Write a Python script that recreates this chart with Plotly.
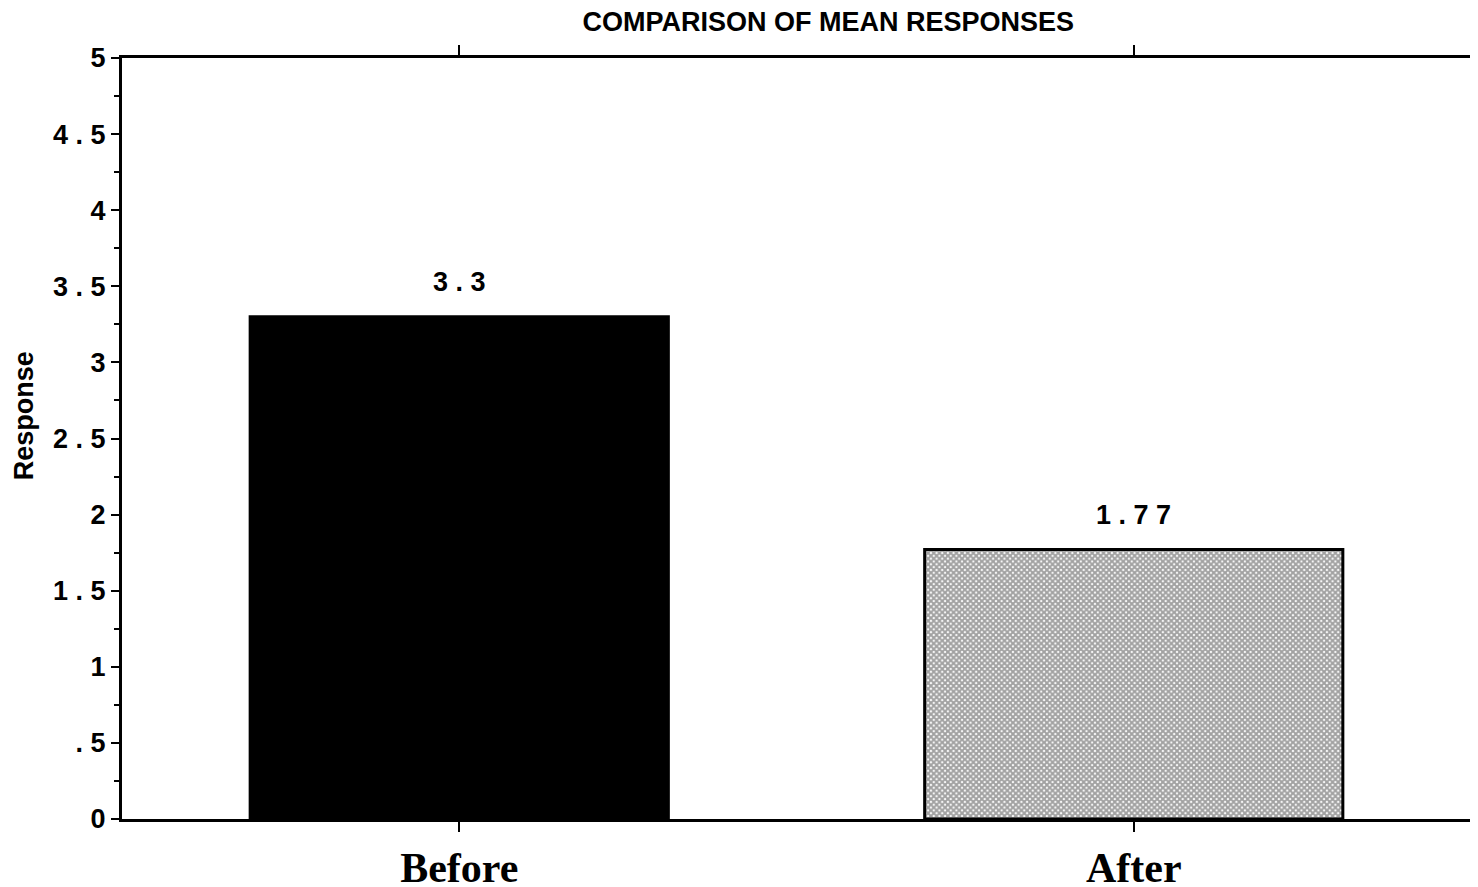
import plotly.graph_objects as go

categories = ["Before", "After"]
values = [3.3, 1.77]
value_labels = ["3 . 3", "1 . 7 7"]
ytick_vals = [0, 0.5, 1, 1.5, 2, 2.5, 3, 3.5, 4, 4.5, 5]
ytick_text = ["0", ". 5", "1", "1 . 5", "2", "2 . 5", "3", "3 . 5", "4", "4 . 5", "5"]

fig = go.Figure()
fig.add_trace(go.Bar(
    x=categories, y=values, width=0.62,
    marker=dict(
        color=["black", "white"],
        line=dict(color="black", width=3),
        pattern=dict(shape=["", "x"], fgcolor="black", bgcolor="white", size=4, solidity=0.75),
    ),
))
for c, v, t in zip(categories, values, value_labels):
    fig.add_annotation(x=c, y=v, text=t, showarrow=False, yanchor="bottom", yshift=18,
                       font=dict(family="Liberation Sans", size=27, color="black", weight="bold"))
fig.update_layout(
    width=1478, height=887, paper_bgcolor="white", plot_bgcolor="white",
    margin=dict(l=114, r=4, t=50, b=64),
    showlegend=False,
    title=dict(text="COMPARISON OF MEAN RESPONSES", x=0.555, xanchor="center", y=0.995, yanchor="top",
               font=dict(family="Liberation Sans", size=27, color="black", weight="bold")),
    font=dict(family="Liberation Sans", color="black"),
)
fig.update_xaxes(range=[-0.5, 1.5], showline=True, linecolor="black", linewidth=3, mirror="ticks",
                 ticks="outside", ticklen=10, tickwidth=2, tickcolor="black",
                 tickfont=dict(family="Liberation Serif", size=42, color="black", weight="bold"))
fig.update_yaxes(range=[0, 5], tickvals=ytick_vals, ticktext=ytick_text,
                 showline=True, linecolor="black", linewidth=3, mirror="ticks",
                 ticks="outside", ticklen=8, tickwidth=2, tickcolor="black",
                 minor=dict(dtick=0.25, ticks="outside", ticklen=5, tickcolor="black", tickwidth=2),
                 showgrid=False, zeroline=False,
                 tickfont=dict(family="Liberation Sans", size=27, color="black", weight="bold"))
fig.add_annotation(text="Response", textangle=-90, x=-0.073, xanchor="center", y=0.53,
                   xref="paper", yref="paper", showarrow=False,
                   font=dict(family="Liberation Sans", size=27, color="black", weight="bold"))
fig.write_html("out.html")
